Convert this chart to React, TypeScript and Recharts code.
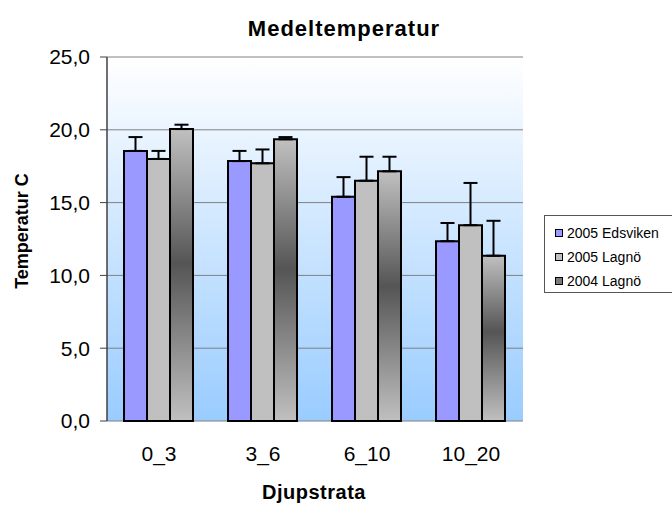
import { BarChart, Bar, XAxis, YAxis, CartesianGrid, ErrorBar, Legend } from 'recharts';

const categories = ['0_3', '3_6', '6_10', '10_20'];
const edsviken2005 = [18.55, 17.85, 15.4, 12.35];
const edsviken2005Err = [0.95, 0.7, 1.35, 1.25];
const lagno2005 = [18.0, 17.7, 16.5, 13.45];
const lagno2005Err = [0.55, 0.95, 1.65, 2.9];
const lagno2004 = [20.05, 19.35, 17.15, 11.35];
const lagno2004Err = [0.3, 0.15, 1.0, 2.4];
const yTicks = [0, 5, 10, 15, 20, 25];
const boundaryTicks = [0, 1, 2, 3, 4];

const data = categories.map((name, i) => ({
  name,
  eds05: edsviken2005[i],
  eds05Err: [0, edsviken2005Err[i]],
  lag05: lagno2005[i],
  lag05Err: [0, lagno2005Err[i]],
  lag04: lagno2004[i],
  lag04Err: [0, lagno2004Err[i]],
}));

const series = [
  { key: 'eds05', name: '2005 Edsviken', fill: '#9999ff', swatch: '#9999ff' },
  { key: 'lag05', name: '2005 Lagnö', fill: '#c0c0c0', swatch: '#c0c0c0' },
  { key: 'lag04', name: '2004 Lagnö', fill: 'url(#barGrad)', swatch: '#7a7a7a' },
];

const font = '"Liberation Sans", Arial, sans-serif';

const fmt = (v: number) => v.toFixed(1).replace('.', ',');

// legend box runs off the right edge of the picture, so no right border
function LegendBox() {
  return (
    <div
      style={{
        borderTop: '1px solid #555',
        borderLeft: '1px solid #555',
        borderBottom: '1px solid #555',
        background: '#fff',
        width: 128,
        height: 78,
        padding: '5px 0 0 10px',
        boxSizing: 'border-box',
        fontFamily: font,
        fontSize: 14,
        color: '#000',
        overflow: 'hidden',
      }}
    >
      {series.map((s) => (
        <div key={s.key} style={{ height: 24, display: 'flex', alignItems: 'center' }}>
          <span
            style={{
              width: 6,
              height: 6,
              border: '1px solid #000',
              background: s.swatch,
              marginRight: 4,
              display: 'inline-block',
              flex: 'none',
            }}
          />
          <span style={{ whiteSpace: 'nowrap' }}>{s.name}</span>
        </div>
      ))}
    </div>
  );
}

function YTitle() {
  return (
    <text
      x={28}
      y={231}
      transform="rotate(-90, 28, 231)"
      textAnchor="middle"
      fontFamily={font}
      fontSize={18}
      fontWeight="bold"
      fill="#000"
    >
      Temperatur C
    </text>
  );
}

function XTitle() {
  return (
    <text
      x={314}
      y={499}
      textAnchor="middle"
      fontFamily={font}
      fontSize={20}
      fontWeight="bold"
      letterSpacing={0.5}
      fill="#000"
    >
      Djupstrata
    </text>
  );
}

export default function App() {
  return (
    <div style={{ position: 'absolute', left: 0, top: 0, width: 672, height: 505, background: '#fff', overflow: 'hidden' }}>
      <BarChart
        width={672}
        height={505}
        data={data}
        margin={{ top: 57, right: 149, bottom: 44, left: 0 }}
        barCategoryGap={17}
        barGap={0}
      >
        <defs>
          <linearGradient id="bgGrad" x1="0" y1="0" x2="0" y2="1">
            <stop offset="0%" stopColor="#ffffff" />
            <stop offset="100%" stopColor="#99ccff" />
          </linearGradient>
          <linearGradient id="barGrad" x1="0" y1="0" x2="0" y2="1">
            <stop offset="0%" stopColor="#c0c0c0" />
            <stop offset="46%" stopColor="#555555" />
            <stop offset="100%" stopColor="#c0c0c0" />
          </linearGradient>
        </defs>
        <text
          x={344}
          y={36}
          textAnchor="middle"
          fontFamily={font}
          fontSize={22}
          fontWeight="bold"
          letterSpacing={1}
          fill="#000"
        >
          Medeltemperatur
        </text>
        <CartesianGrid vertical={false} stroke="#808080" fill="url(#bgGrad)" fillOpacity={1} />
        <XAxis
          xAxisId="bounds"
          type="number"
          domain={[0, 4]}
          ticks={boundaryTicks}
          height={0}
          tick={false}
          tickSize={6}
          tickLine={{ stroke: '#404040' }}
          axisLine={{ stroke: '#404040', strokeWidth: 1.5 }}
        />
        <XAxis
          dataKey="name"
          height={40}
          tickLine={false}
          axisLine={false}
          tickMargin={19}
          tick={{ fontFamily: font, fontSize: 21, fill: '#000' }}
          label={<XTitle />}
        />
        <YAxis
          width={107}
          domain={[0, 25]}
          ticks={yTicks}
          tickFormatter={fmt}
          tickSize={7}
          tickMargin={10}
          tickLine={{ stroke: '#404040' }}
          axisLine={{ stroke: '#404040', strokeWidth: 1.5 }}
          tick={{ fontFamily: font, fontSize: 21, fill: '#000' }}
          label={<YTitle />}
        />
        <YAxis
          yAxisId="right"
          orientation="right"
          width={0}
          tick={false}
          tickLine={false}
          axisLine={{ stroke: '#808080', strokeWidth: 1.5 }}
        />
        <Legend
          layout="vertical"
          align="center"
          verticalAlign="middle"
          content={<LegendBox />}
          wrapperStyle={{ left: 544, top: 215, width: 128 }}
        />
        {series.map((s) => (
          <Bar
            key={s.key}
            dataKey={s.key}
            name={s.name}
            fill={s.fill}
            stroke="#000"
            strokeWidth={2}
            isAnimationActive={false}
          >
            <ErrorBar dataKey={`${s.key}Err`} width={7} stroke="#000" strokeWidth={2} />
          </Bar>
        ))}
      </BarChart>
    </div>
  );
}
